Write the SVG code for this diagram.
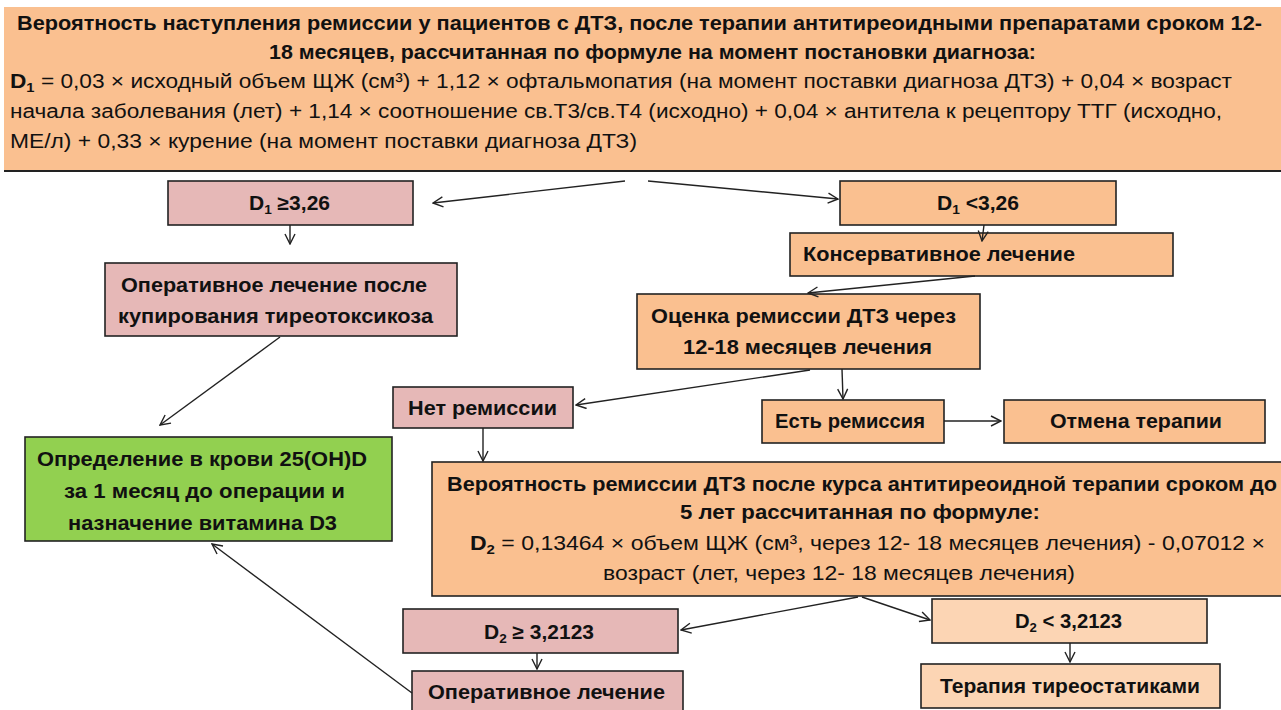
<svg xmlns="http://www.w3.org/2000/svg" width="1281" height="710" viewBox="0 0 1281 710">
<style>
text{font-family:"Liberation Sans",Arial,sans-serif;fill:#111;}
.b{font-weight:bold;font-size:20px;}
.n{font-size:20px;}
.box{stroke:#222;stroke-width:1.6;}
.pk{fill:#E6B8B7;}
.pe{fill:#FAC090;}
.lp{fill:#FCD5B4;}
.gr{fill:#92D050;}
.sub{font-size:13px;}
#conn line{stroke:#222;stroke-width:1.4;fill:none;marker-end:url(#ah);}
</style>
<defs>
<marker id="ah" viewBox="0 0 12 12" refX="11" refY="6" markerWidth="12" markerHeight="12" markerUnits="userSpaceOnUse" orient="auto">
<path d="M1,1 L11,6 L1,11" fill="none" stroke="#222" stroke-width="1.4"/>
</marker>
</defs>
<rect width="1281" height="710" fill="#fff"/>

<g id="top">
<rect x="4" y="7" width="1290" height="164" class="pe"/>
<line x1="4" y1="171" x2="1281" y2="171" stroke="#222" stroke-width="2"/>
<text class="b" x="17" y="30" textLength="1245" lengthAdjust="spacingAndGlyphs">Вероятность наступления ремиссии у пациентов с  ДТЗ, после терапии антитиреоидными препаратами сроком 12-</text>
<text class="b" x="269" y="59" textLength="767" lengthAdjust="spacingAndGlyphs">18 месяцев, рассчитанная  по формуле на момент постановки  диагноза:</text>
<text class="n" x="10" y="88" textLength="1222" lengthAdjust="spacingAndGlyphs"><tspan font-weight="bold">D</tspan><tspan class="sub" font-weight="bold" dy="4">1</tspan><tspan dy="-4"> = 0,03 × исходный объем ЩЖ (см³) + 1,12 × офтальмопатия (на момент поставки диагноза ДТЗ) + 0,04 × возраст</tspan></text>
<text class="n" x="10" y="118" textLength="1212" lengthAdjust="spacingAndGlyphs">начала заболевания (лет) + 1,14 × соотношение св.Т3/св.Т4 (исходно) + 0,04 × антитела к рецептору ТТГ (исходно,</text>
<text class="n" x="10" y="148" textLength="627" lengthAdjust="spacingAndGlyphs">МЕ/л) + 0,33 × курение (на момент поставки диагноза ДТЗ)</text>
</g>

<g id="d1ge">
<rect x="168" y="181" width="245" height="44" class="box pk"/>
<text class="b" x="249" y="210" textLength="81" lengthAdjust="spacingAndGlyphs">D<tspan class="sub" dy="4">1</tspan><tspan dy="-4"> ≥3,26</tspan></text>
</g>

<g id="d1lt">
<rect x="840" y="181" width="276" height="44" class="box pe"/>
<text class="b" x="937" y="210" textLength="82" lengthAdjust="spacingAndGlyphs">D<tspan class="sub" dy="4">1</tspan><tspan dy="-4"> &lt;3,26</tspan></text>
</g>

<g id="oper1">
<rect x="105" y="263" width="352" height="73" class="box pk"/>
<text class="b" x="121" y="292" textLength="306" lengthAdjust="spacingAndGlyphs">Оперативное  лечение после</text>
<text class="b" x="118" y="323" textLength="315" lengthAdjust="spacingAndGlyphs">купирования  тиреотоксикоза</text>
</g>

<g id="konserv">
<rect x="790" y="233" width="383" height="43" class="box pe"/>
<text class="b" x="803" y="261" textLength="272" lengthAdjust="spacingAndGlyphs">Консервативное  лечение</text>
</g>

<g id="ocenka">
<rect x="637" y="294" width="343" height="75" class="box pe"/>
<text class="b" x="651" y="323" textLength="305" lengthAdjust="spacingAndGlyphs">Оценка ремиссии  ДТЗ через</text>
<text class="b" x="683" y="354" textLength="249" lengthAdjust="spacingAndGlyphs">12-18  месяцев лечения</text>
</g>

<g id="net">
<rect x="393" y="387" width="180" height="41" class="box pk"/>
<text class="b" x="408" y="415" textLength="149" lengthAdjust="spacingAndGlyphs">Нет ремиссии</text>
</g>

<g id="est">
<rect x="762" y="400" width="182" height="43" class="box pe"/>
<text class="b" x="775" y="428" textLength="150" lengthAdjust="spacingAndGlyphs">Есть ремиссия</text>
</g>

<g id="otmena">
<rect x="1004" y="400" width="261" height="43" class="box pe"/>
<text class="b" x="1050" y="428" textLength="172" lengthAdjust="spacingAndGlyphs">Отмена терапии</text>
</g>

<g id="vitd">
<rect x="25" y="437" width="367" height="104" class="box gr"/>
<text class="b" x="37" y="466" textLength="330" lengthAdjust="spacingAndGlyphs">Определение в крови  25(OH)D</text>
<text class="b" x="64" y="498" textLength="281" lengthAdjust="spacingAndGlyphs">за 1 месяц до операции  и</text>
<text class="b" x="68" y="530" textLength="269" lengthAdjust="spacingAndGlyphs">назначение  витамина  D3</text>
</g>

<g id="d2box">
<rect x="432" y="462" width="862" height="134" class="box pe"/>
<text class="b" x="447" y="491" textLength="830" lengthAdjust="spacingAndGlyphs">Вероятность ремиссии ДТЗ после  курса  антитиреоидной  терапии  сроком до</text>
<text class="b" x="680" y="519" textLength="360" lengthAdjust="spacingAndGlyphs">5 лет рассчитанная  по формуле:</text>
<text class="n" x="470" y="550" textLength="795" lengthAdjust="spacingAndGlyphs"><tspan font-weight="bold">D</tspan><tspan class="sub" font-weight="bold" dy="4">2</tspan><tspan dy="-4"> = 0,13464  × объем ЩЖ (см³, через 12- 18 месяцев лечения) - 0,07012  ×</tspan></text>
<text class="n" x="603" y="580" textLength="472" lengthAdjust="spacingAndGlyphs">возраст (лет, через 12- 18 месяцев лечения)</text>
</g>

<g id="d2ge">
<rect x="403" y="609" width="275" height="44" class="box pk"/>
<text class="b" x="484" y="639" textLength="110" lengthAdjust="spacingAndGlyphs">D<tspan class="sub" dy="4">2</tspan><tspan dy="-4"> ≥ 3,2123</tspan></text>
</g>

<g id="d2lt">
<rect x="932" y="599" width="275" height="44" class="box lp"/>
<text class="b" x="1015" y="628" textLength="107" lengthAdjust="spacingAndGlyphs">D<tspan class="sub" dy="4">2</tspan><tspan dy="-4"> &lt; 3,2123</tspan></text>
</g>

<g id="oper2">
<rect x="412" y="671" width="271" height="48" class="box pk"/>
<text class="b" x="428" y="699" textLength="237" lengthAdjust="spacingAndGlyphs">Оперативное  лечение</text>
</g>

<g id="tireo">
<rect x="921" y="664" width="299" height="44" class="box lp"/>
<text class="b" x="940" y="693" textLength="260" lengthAdjust="spacingAndGlyphs">Терапия  тиреостатиками</text>
</g>

<g id="conn">
<line x1="625" y1="181" x2="433" y2="203"/>
<line x1="648" y1="181" x2="838" y2="199"/>
<line x1="290" y1="225" x2="290" y2="244"/>
<line x1="984" y1="225" x2="982" y2="241"/>
<line x1="975" y1="276" x2="808" y2="293"/>
<line x1="280" y1="337" x2="160" y2="425"/>
<line x1="842" y1="369" x2="843" y2="399"/>
<line x1="810" y1="370" x2="576" y2="405"/>
<line x1="944" y1="421" x2="1001" y2="421"/>
<line x1="483" y1="428" x2="483" y2="461"/>
<line x1="858" y1="597" x2="681" y2="630"/>
<line x1="862" y1="597" x2="930" y2="620"/>
<line x1="537" y1="653" x2="537" y2="669"/>
<line x1="412" y1="693" x2="212" y2="544"/>
<line x1="1070" y1="643" x2="1070" y2="662"/>
</g>
</svg>
